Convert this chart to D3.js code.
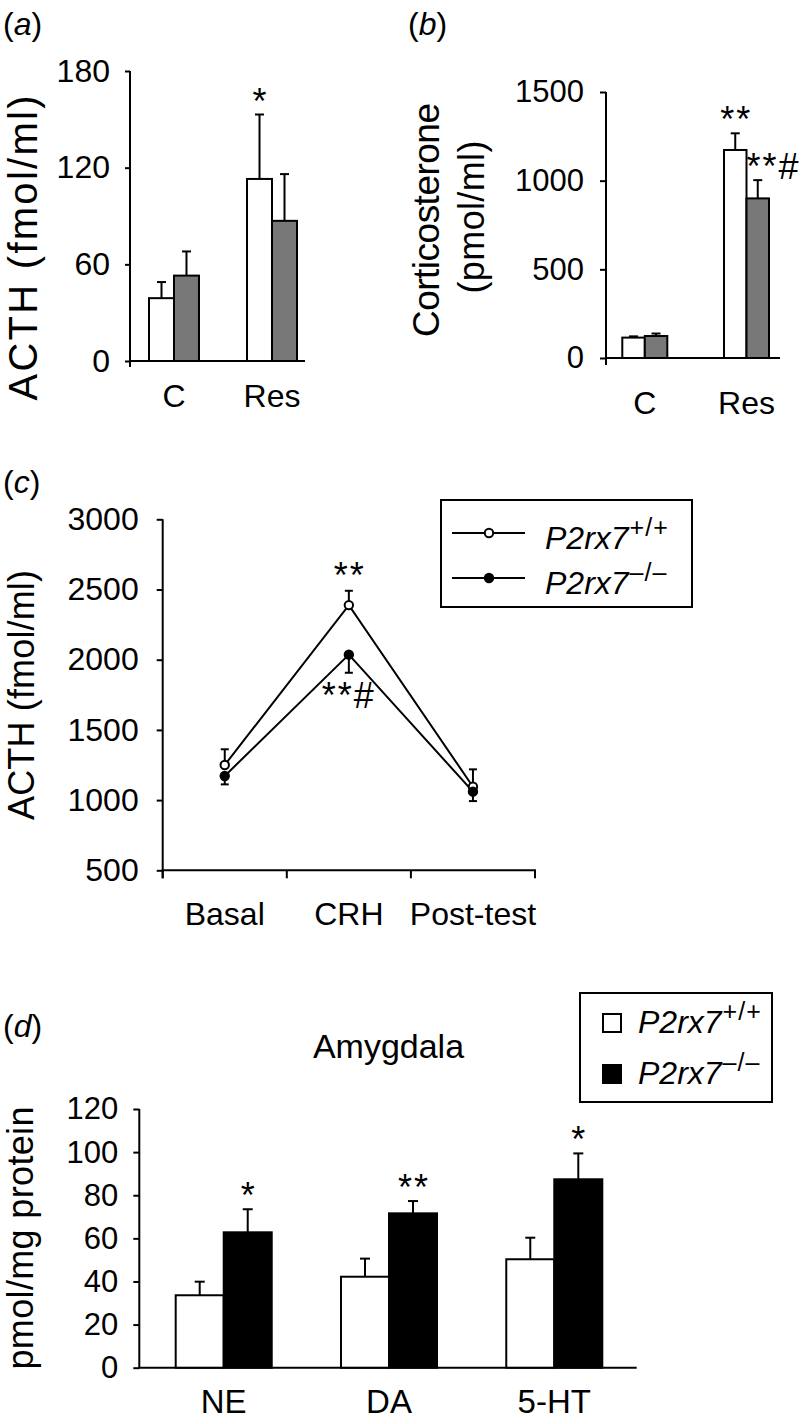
<!DOCTYPE html>
<html><head><meta charset="utf-8">
<script src="https://cdn.jsdelivr.net/npm/d3@7"></script>
<style>
body{margin:0;background:#fff}
svg{display:block}
text{font-family:"Liberation Sans",Arial,sans-serif;fill:#000}
</style>
</head><body>
<svg id="chart" width="802" height="1424"></svg>
<script>
// ---------- data ----------
const seriesKeys = ["wt", "ko"];
const legendNames = ["P2rx7", "P2rx7"];
const legendSups = ["+/+", "\u2013/\u2013"];

// (a) plasma ACTH
const catsA = ["C", "Res"];
const acthWT = [39, 113], acthWTsem = [10, 40];
const acthKO = [53, 87],  acthKOsem = [15, 29];
const ticksA = [0, 60, 120, 180];
const sigA = [{cat: "Res", s: "wt", t: "*"}];

// (b) corticosterone
const catsB = ["C", "Res"];
const corWT = [115, 1173], corWTsem = [7, 94];
const corKO = [124, 900],  corKOsem = [14, 103];
const ticksB = [0, 500, 1000, 1500];
const sigB = [{cat: "Res", s: "wt", t: "**"}, {cat: "Res", s: "ko", t: "**#"}];

// (c) CRH test
const catsC = ["Basal", "CRH", "Post-test"];
const crhWT = [1250, 2389, 1095], crhWTsem = [112, 102, 124];
const crhKO = [1172, 2036, 1060], crhKOsem = [60, 129, 67];
const ticksC = [500, 1000, 1500, 2000, 2500, 3000];
const sigC = [{cat: "CRH", s: "wt", t: "**"}, {cat: "CRH", s: "ko", t: "**#"}];

// (d) amygdala monoamines
const catsD = ["NE", "DA", "5-HT"];
const amyWT = [33.6, 42.2, 50.3], amyWTsem = [6.3, 8.4, 10];
const amyKO = [62.8, 71.6, 87.4], amyKOsem = [10.7, 5.7, 12];
const ticksD = [0, 20, 40, 60, 80, 100, 120];
const sigD = [{cat: "NE", s: "ko", t: "*"}, {cat: "DA", s: "ko", t: "**"}, {cat: "5-HT", s: "ko", t: "*"}];

// ---------- drawing ----------
const svg = d3.select("#chart");
const SIGFS = 36;
const fmt = d3.format("d");

function rows(cats, wt, wtS, ko, koS) {
  const r = [];
  cats.forEach((c, i) => {
    r.push({cat: c, s: "wt", v: wt[i], e: wtS[i]});
    r.push({cat: c, s: "ko", v: ko[i], e: koS[i]});
  });
  return r;
}

function panelTitle(x, y, letter) {
  const t = svg.append("text").attr("x", x).attr("y", y).attr("font-size", 32);
  t.append("tspan").text("(");
  t.append("tspan").attr("font-style", "italic").text(letter);
  t.append("tspan").text(")");
}

function yLabel(lines) {
  lines.forEach(l => {
    const t = svg.append("text")
      .attr("transform", `translate(${l.x},${l.y}) rotate(-90)`)
      .attr("text-anchor", "middle").attr("font-size", l.fs).text(l.text);
    if (l.len) t.attr("textLength", l.len).attr("lengthAdjust", "spacing");
  });
}

function sigText(g, x, y, anchor, txt) {
  return g.append("text").attr("x", x).attr("y", y).attr("text-anchor", anchor)
    .attr("font-size", SIGFS).attr("letter-spacing", 2).text(txt);
}

function legendLabel(parent, x, y, i) {
  const t = parent.append("text").attr("x", x).attr("y", y).attr("font-size", 32).attr("font-style", "italic");
  t.append("tspan").text(legendNames[i]);
  t.append("tspan").attr("font-size", 25).attr("dy", -13).attr("dx", 1)
    .attr("font-style", "normal").attr("letter-spacing", 1).text(legendSups[i]);
}

function barPanel(o) {
  const y = d3.scaleLinear().domain([0, o.yMax]).range(o.yRange);
  const x = d3.scaleBand().domain(o.cats).range(o.groupRange).paddingInner(o.pad).paddingOuter(0);
  const xs = d3.scaleBand().domain(seriesKeys).range([0, x.bandwidth()]);
  const g = svg.append("g");

  const ax = g.append("g").attr("transform", `translate(${o.axisX},0)`)
    .call(d3.axisLeft(y).tickValues(o.ticks).tickFormat(fmt).tickSize(o.tickSize).tickPadding(o.tickPad).tickSizeOuter(0));
  ax.select(".domain").remove();
  ax.selectAll(".tick line").attr("stroke", "#000").attr("stroke-width", 2);
  ax.selectAll(".tick text").attr("font-size", o.tickFont);

  g.append("line").attr("x1", o.axisX).attr("x2", o.axisX)
    .attr("y1", y(o.yMax)).attr("y2", y(0) + o.yExt).attr("stroke", "#000").attr("stroke-width", 2);
  g.append("line").attr("x1", o.axisX - 1).attr("x2", o.axisEnd)
    .attr("y1", y(0)).attr("y2", y(0)).attr("stroke", "#000").attr("stroke-width", 2);

  const data = rows(o.cats, o.wt, o.wtS, o.ko, o.koS);
  const fill = d3.scaleOrdinal().domain(seriesKeys).range(o.fills);

  const eb = g.append("g").attr("stroke", "#000").attr("stroke-width", 2);
  data.forEach(d => {
    const cx = x(d.cat) + xs(d.s) + xs.bandwidth() / 2;
    eb.append("line").attr("x1", cx).attr("x2", cx).attr("y1", y(d.v)).attr("y2", y(d.v + d.e));
    eb.append("line").attr("x1", cx - o.cap / 2).attr("x2", cx + o.cap / 2).attr("y1", y(d.v + d.e)).attr("y2", y(d.v + d.e));
  });

  g.append("g").selectAll("rect").data(data).join("rect")
    .attr("x", d => x(d.cat) + xs(d.s))
    .attr("y", d => y(d.v))
    .attr("width", xs.bandwidth())
    .attr("height", d => y(0) - y(d.v))
    .attr("fill", d => fill(d.s))
    .attr("stroke", "#000").attr("stroke-width", 2);

  g.append("g").selectAll("text").data(o.cats).join("text")
    .attr("x", d => x(d) + x.bandwidth() / 2).attr("y", o.catY)
    .attr("text-anchor", "middle").attr("font-size", o.catFont).text(d => d);

  o.sig.forEach(s => {
    const d = data.find(r => r.cat === s.cat && r.s === s.s);
    const top = y(d.v + d.e);
    const base = top - o.sigOff + 0.575 * SIGFS;
    if (s.t.includes("#")) sigText(g, x(d.cat) + xs(d.s), base, "start", s.t);
    else sigText(g, x(d.cat) + xs(d.s) + xs.bandwidth() / 2 + 1, base, "middle", s.t);
  });
  return {x, y};
}

// ----- (a)
panelTitle(3, 35, "a");
barPanel({cats: catsA, wt: acthWT, wtS: acthWTsem, ko: acthKO, koS: acthKOsem,
  ticks: ticksA, yMax: 180, yRange: [361, 71], axisX: 130, axisEnd: 305,
  groupRange: [149, 297], pad: 0.49, tickSize: 5, tickPad: 15, tickFont: 32, yExt: 6,
  catY: 407, catFont: 32, fills: ["#fff", "#787878"], cap: 9, sig: sigA, sigOff: 21});
yLabel([{x: 37, y: 248, fs: 40, text: "ACTH (fmol/ml)", len: 305}]);

// ----- (b)
panelTitle(408, 35, "b");
barPanel({cats: catsB, wt: corWT, wtS: corWTsem, ko: corKO, koS: corKOsem,
  ticks: ticksB, yMax: 1500, yRange: [358, 92], axisX: 606, axisEnd: 780,
  groupRange: [622.3, 769], pad: 0.5575, tickSize: 6, tickPad: 16, tickFont: 31, yExt: 7,
  catY: 414, catFont: 32, fills: ["#fff", "#787878"], cap: 9, sig: sigB, sigOff: 22});
yLabel([{x: 439, y: 220, fs: 37, text: "Corticosterone", len: 234},
        {x: 484, y: 217, fs: 36, text: "(pmol/ml)", len: 153}]);

// ----- (c)
panelTitle(3, 493, "c");
(function () {
  const y = d3.scaleLinear().domain([500, 3000]).range([870.3, 519.3]);
  const x = d3.scaleBand().domain(catsC).range([162.7, 535]).padding(0);
  const g = svg.append("g");
  const ax = g.append("g").attr("transform", "translate(162.7,0)")
    .call(d3.axisLeft(y).tickValues(ticksC).tickFormat(fmt).tickSize(6).tickPadding(18).tickSizeOuter(0));
  ax.select(".domain").remove();
  ax.selectAll(".tick line").attr("stroke", "#000").attr("stroke-width", 2);
  ax.selectAll(".tick text").attr("font-size", 32);
  g.append("line").attr("x1", 162.7).attr("x2", 162.7).attr("y1", y(3000)).attr("y2", y(500) + 8)
    .attr("stroke", "#000").attr("stroke-width", 2);
  g.append("line").attr("x1", 161.7).attr("x2", x.range()[1] + 1).attr("y1", y(500)).attr("y2", y(500))
    .attr("stroke", "#000").attr("stroke-width", 2);
  const bounds = catsC.map(c => x(c)).concat([x.range()[1]]);
  g.append("g").selectAll("line").data(bounds).join("line")
    .attr("x1", d => d).attr("x2", d => d).attr("y1", y(500)).attr("y2", y(500) + 8)
    .attr("stroke", "#000").attr("stroke-width", 2);
  g.append("g").selectAll("text").data(catsC).join("text")
    .attr("x", d => x(d) + x.bandwidth() / 2).attr("y", 925)
    .attr("text-anchor", "middle").attr("font-size", 32).text(d => d);

  const cx = c => x(c) + x.bandwidth() / 2;
  const series = [
    {s: "wt", v: crhWT, e: crhWTsem, dir: 1, fill: "#fff"},
    {s: "ko", v: crhKO, e: crhKOsem, dir: -1, fill: "#000"}
  ];
  const line = d3.line().x(d => cx(d.cat)).y(d => y(d.v));
  series.forEach(S => {
    const pts = catsC.map((c, i) => ({cat: c, v: S.v[i], e: S.e[i]}));
    g.append("path").datum(pts).attr("d", line).attr("fill", "none").attr("stroke", "#000").attr("stroke-width", 2);
  });
  series.forEach(S => {
    const pts = catsC.map((c, i) => ({cat: c, v: S.v[i], e: S.e[i]}));
    const eb = g.append("g").attr("stroke", "#000").attr("stroke-width", 2);
    pts.forEach(p => {
      const ye = y(p.v + S.dir * p.e);
      eb.append("line").attr("x1", cx(p.cat)).attr("x2", cx(p.cat)).attr("y1", y(p.v)).attr("y2", ye);
      eb.append("line").attr("x1", cx(p.cat) - 4).attr("x2", cx(p.cat) + 4).attr("y1", ye).attr("y2", ye);
    });
  });
  series.forEach(S => {
    const pts = catsC.map((c, i) => ({cat: c, v: S.v[i]}));
    g.append("g").selectAll("circle").data(pts).join("circle")
      .attr("cx", d => cx(d.cat)).attr("cy", d => y(d.v)).attr("r", 4.2)
      .attr("fill", S.fill).attr("stroke", "#000").attr("stroke-width", 2);
  });
  sigC.forEach(s => {
    const i = catsC.indexOf(s.cat);
    if (s.s === "wt") {
      const top = y(crhWT[i] + crhWTsem[i]);
      sigText(g, cx(s.cat) + 1, top - 23 + 0.575 * SIGFS, "middle", s.t);
    } else {
      const bot = y(crhKO[i] - crhKOsem[i]);
      sigText(g, cx(s.cat), bot + 35, "middle", s.t);
    }
  });
  const lg = svg.append("g");
  lg.append("rect").attr("x", 441).attr("y", 500).attr("width", 251).attr("height", 107)
    .attr("fill", "#fff").attr("stroke", "#000").attr("stroke-width", 2);
  series.forEach((S, i) => {
    const ly = 533 + i * 45;
    lg.append("line").attr("x1", 452).attr("x2", 525).attr("y1", ly).attr("y2", ly)
      .attr("stroke", "#000").attr("stroke-width", 2);
    lg.append("circle").attr("cx", 489).attr("cy", ly).attr("r", 4.2)
      .attr("fill", S.fill).attr("stroke", "#000").attr("stroke-width", 2);
    legendLabel(lg, 545, ly + 16, i);
  });
})();
yLabel([{x: 34, y: 695, fs: 36, text: "ACTH (fmol/ml)", len: 250}]);

// ----- (d)
panelTitle(3, 1037, "d");
svg.append("text").attr("x", 388.5).attr("y", 1058).attr("text-anchor", "middle").attr("font-size", 34).text("Amygdala");
barPanel({cats: catsD, wt: amyWT, wtS: amyWTsem, ko: amyKO, koS: amyKOsem,
  ticks: ticksD, yMax: 120, yRange: [1367.7, 1109], axisX: 139.3, axisEnd: 636.7,
  groupRange: [175.7, 602.3], pad: 0.419, tickSize: 6, tickPad: 15, tickFont: 31, yExt: 0,
  catY: 1413, catFont: 33, fills: ["#fff", "#000"], cap: 10, sig: sigD, sigOff: 22});
yLabel([{x: 33, y: 1238, fs: 36, text: "pmol/mg protein", len: 263}]);

(function () {
  const lg = svg.append("g");
  const fills = ["#fff", "#000"];
  lg.append("rect").attr("x", 580).attr("y", 993).attr("width", 192).attr("height", 109)
    .attr("fill", "#fff").attr("stroke", "#000").attr("stroke-width", 2);
  seriesKeys.forEach((k, i) => {
    const base = 1033 + i * 51;
    lg.append("rect").attr("x", 603).attr("y", base - 19).attr("width", 18).attr("height", 18)
      .attr("fill", fills[i]).attr("stroke", "#000").attr("stroke-width", 2);
    legendLabel(lg, 638, base, i);
  });
})();
</script>
</body></html>
